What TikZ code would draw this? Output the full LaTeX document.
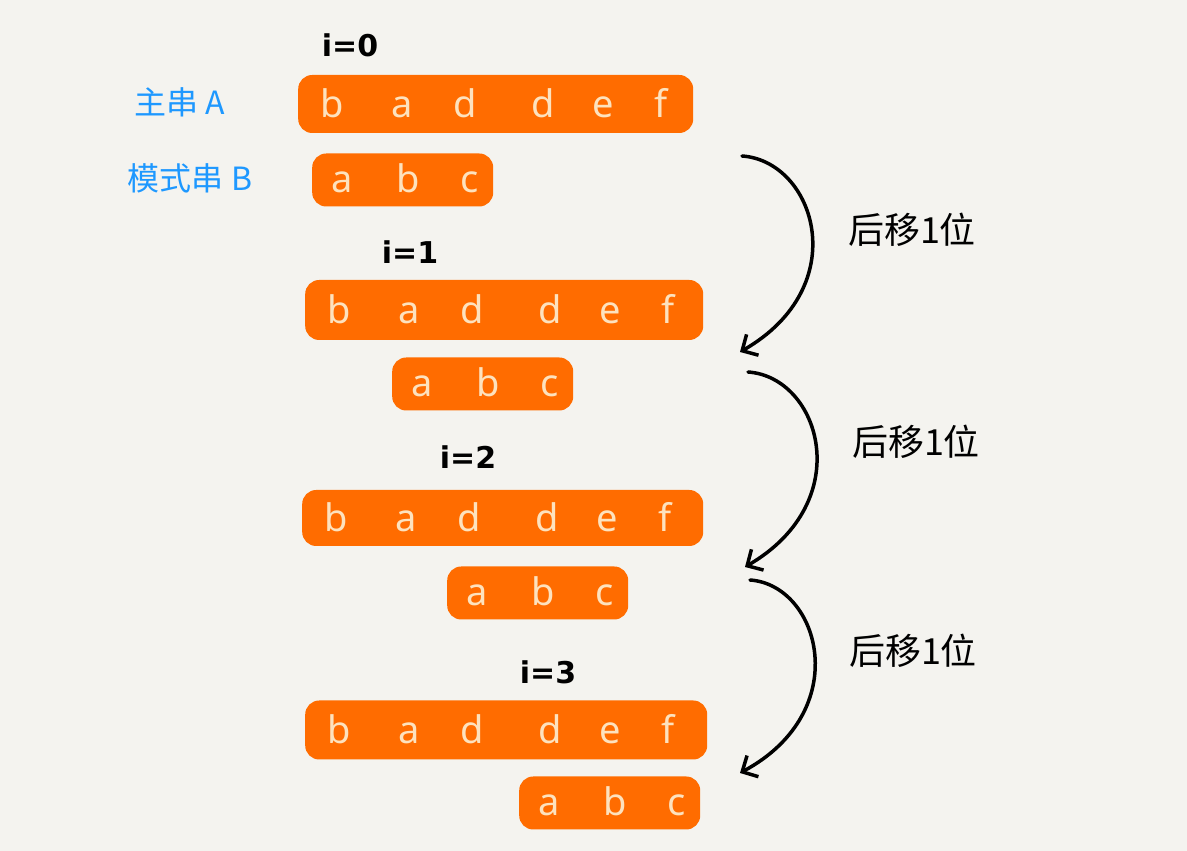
\documentclass[tikz,border=0pt]{standalone}
\usepackage{fontspec}
\setmainfont{Noto Sans}
\newfontfamily\cjk{Noto Sans CJK SC}
\newfontfamily\idxfont{DejaVu Sans}
\usepackage{tikz}
\usetikzlibrary{arrows.meta, positioning, calc}
\definecolor{sbg}{HTML}{F4F3EF}
\definecolor{sorange}{HTML}{FF6C00}
\definecolor{scream}{HTML}{FDE2BE}
\definecolor{sblue}{HTML}{1E98FF}

\tikzset{
  strbox/.style={fill=sorange, rounded corners=14pt, inner sep=0pt},
  chr/.style={text=scream, font=\fontsize{38}{42}\selectfont, inner sep=0pt, anchor=base},
  ilabel/.style={font=\idxfont\bfseries\fontsize{30}{34}\selectfont, text=black},
  sidelabel/.style={font=\cjk\fontsize{32}{36}\selectfont, text=sblue},
  shiftlabel/.style={font=\cjk\fontsize{36}{40}\selectfont, text=black},
  shiftarrow/.style={draw=black, line width=3.5pt, line cap=round,
    -{Straight Barb[length=12pt, width=24pt, line width=3.5pt]}}
}

\begin{document}
\begin{tikzpicture}[x=1pt, y=1pt]

  %% Background
  \fill[sbg] (0,0) rectangle (1187,851);
  \useasboundingbox (0,0) rectangle (1187,851);

  %% Side labels
  \node[sidelabel] (lblA) at (180,749) {主串 A};
  \node[sidelabel] (lblB) at (190,673) {模式串 B};

  %% Rows: main string A and pattern B for every i
  \foreach \r/\ax/\ay/\aw/\ah/\bx/\by/\iy/\ix in {
    0/298/747/395/58/312/671/806/350,
    1/305/541/398/60/392/467/599/410,
    2/302/333/401/56/447/258/394/468,
    3/305/121/402/59/519/48/179/548
  }{
    \node[strbox, minimum width=\aw, minimum height=\ah, anchor=west] (A\r) at (\ax,\ay) {};
    \node[strbox, minimum width=181, minimum height=53, anchor=west] (B\r) at (\bx,\by) {};
    \node[ilabel] (i\r) at (\ix,\iy) {i=\r};
    \foreach \k/\dx/\c in {1/34/b, 2/104/a, 3/167/d, 4/245/d, 5/305/e, 6/363/f}{
      \node[chr] (A\r-\k) at ($(A\r.west)+(\dx,-14)$) {\c};
    }
    \foreach \k/\dx/\c in {1/30/a, 2/96/b, 3/158/c}{
      \node[chr] (B\r-\k) at ($(B\r.west)+(\dx,-13)$) {\c};
    }
  }

  %% Shift arrows
  \coordinate (s1) at (742,695);
  \coordinate (e1) at (740,499);
  \coordinate (s2) at (748,479);
  \coordinate (e2) at (745,284);
  \coordinate (s3) at (750,271);
  \coordinate (e3) at (740,78);

  \draw[shiftarrow] (s1) .. controls (815,690) and (855,565) .. (e1);
  \draw[shiftarrow] (s2) .. controls (820,474) and (858,350) .. (e2);
  \draw[shiftarrow] (s3) .. controls (820,266) and (855,140) .. (e3);

  \node[shiftlabel] (m1) at (912,621) {后移1位};
  \node[shiftlabel] (m2) at (916,409) {后移1位};
  \node[shiftlabel] (m3) at (913,200) {后移1位};

\end{tikzpicture}
\end{document}
